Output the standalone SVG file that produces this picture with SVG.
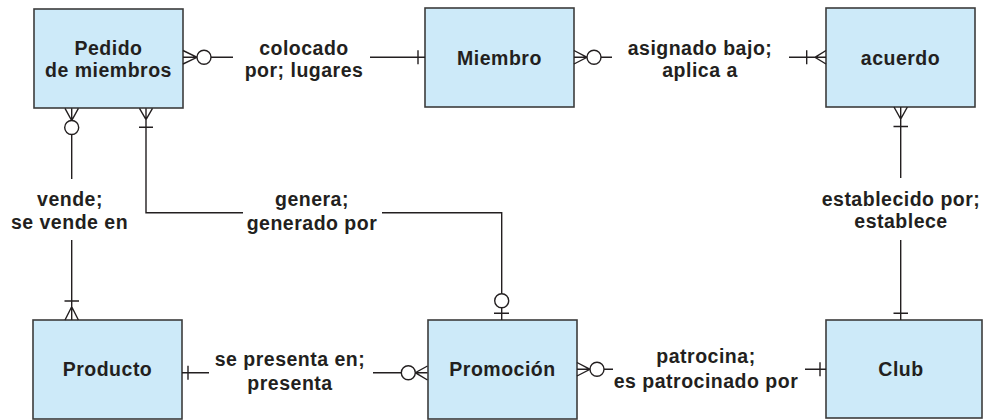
<svg xmlns="http://www.w3.org/2000/svg" width="986" height="420" viewBox="0 0 986 420">
<style>
.box{fill:#cdeaf9;stroke:#3c3c3c;stroke-width:1.6}
.t{font-family:"Liberation Sans",Arial,sans-serif;font-weight:bold;font-size:19.5px;letter-spacing:0.5px;fill:#231f20;text-anchor:middle}
.c{fill:none;stroke:#231f20;stroke-width:1.4}
.o{fill:#ffffff;stroke:#231f20;stroke-width:1.4}
</style>
<rect width="986" height="420" fill="#ffffff"/>
<g id="pedido">
<rect class="box" x="34" y="9" width="149" height="99"/>
<text class="t" x="108.5" y="55">Pedido</text>
<text class="t" x="108.5" y="77">de miembros</text>
</g>
<g id="miembro">
<rect class="box" x="425" y="8" width="149" height="99"/>
<text class="t" x="499.5" y="65">Miembro</text>
</g>
<g id="acuerdo">
<rect class="box" x="826" y="8" width="149" height="99"/>
<text class="t" x="900.5" y="65">acuerdo</text>
</g>
<g id="producto">
<rect class="box" x="33" y="320" width="149" height="99"/>
<text class="t" x="107.5" y="376">Producto</text>
</g>
<g id="promocion">
<rect class="box" x="428" y="320" width="149" height="99"/>
<text class="t" x="502.5" y="376">Promoción</text>
</g>
<g id="club">
<rect class="box" x="826" y="320" width="156" height="98"/>
<text class="t" x="901" y="376">Club</text>
</g>
<g id="connectors">
<!-- Pedido - Miembro -->
<path class="c" d="M183 50.5L197 57.3L183 64M183 57.3H197M211 57.3H233"/>
<circle class="o" cx="204" cy="57.3" r="7"/>
<path class="c" d="M370 57.3H425M418 50.3V64.3"/>
<!-- Miembro - acuerdo -->
<path class="c" d="M574 50.5L587 57.3L574 64M574 57.3H587M601 57.3H612"/>
<circle class="o" cx="594" cy="57.3" r="7"/>
<path class="c" d="M789 57.3H826M806.7 50.3V64.3M826 50.5L815 57.3L826 64"/>
<!-- acuerdo - Club -->
<path class="c" d="M894 107L900.7 119L907.4 107M900.7 107V178M893.5 126.5H908M900.7 240V320M893.5 313.3H908"/>
<!-- Pedido - Producto -->
<path class="c" d="M65 108.3L71.7 120.5L78.4 108.3M71.7 108.3V120.5M71.7 134.5V179M71.7 240V320M64.5 301H79M65 320L71.7 306.7L78.4 320"/>
<circle class="o" cx="71.7" cy="127.5" r="7"/>
<!-- Pedido - Promocion -->
<path class="c" d="M139.5 108.3L146 119.5L152.5 108.3M146 108.3V212.7H243M139 127.3H153M382 212.7H501.7V293.7M501.7 307.7V320M494 313.3H509"/>
<circle class="o" cx="501.7" cy="300.7" r="7"/>
<!-- Producto - Promocion -->
<path class="c" d="M182 372.7H209M188 365.7V379.7M373 372.7H401.3M427.5 366L415.3 372.7L427.5 380M415.3 372.7H427.5"/>
<circle class="o" cx="408.3" cy="372.7" r="7"/>
<!-- Promocion - Club -->
<path class="c" d="M577 362.5L590 369.3L577 376M577 369.3H590M604 369.3H613M805 369.3H826M820 362.3V376.3"/>
<circle class="o" cx="597" cy="369.3" r="7"/>
</g>
<g id="labels">
<text class="t" x="304" y="54.5">colocado</text>
<text class="t" x="304" y="76.5">por; lugares</text>
<text class="t" x="700" y="54.5">asignado bajo;</text>
<text class="t" x="700" y="76.5">aplica a</text>
<text class="t" x="901" y="205.5">establecido por;</text>
<text class="t" x="901" y="228">establece</text>
<text class="t" x="70" y="205.5">vende;</text>
<text class="t" x="69.5" y="229">se vende en</text>
<text class="t" x="312" y="206">genera;</text>
<text class="t" x="312" y="229.5">generado por</text>
<text class="t" x="290" y="366">se presenta en;</text>
<text class="t" x="290" y="389.5">presenta</text>
<text class="t" x="706" y="363">patrocina;</text>
<text class="t" x="706" y="387.5">es patrocinado por</text>
</g>
</svg>
